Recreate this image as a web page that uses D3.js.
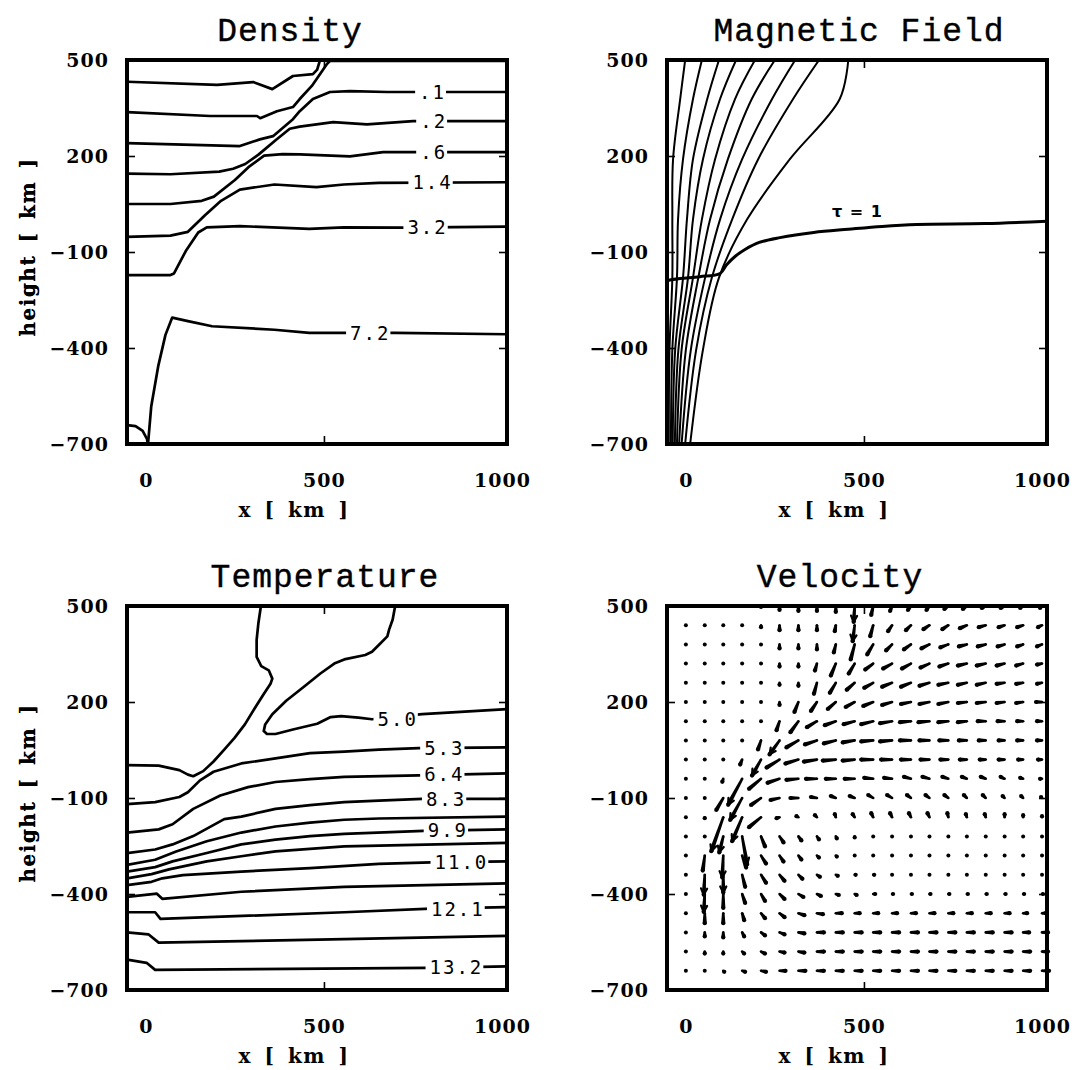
<!DOCTYPE html>
<html>
<head>
<meta charset="utf-8">
<script src="https://cdn.jsdelivr.net/npm/d3@7"></script>
<style>
  body { margin: 0; background: #fff; }
  .title { font-family: "Liberation Mono", monospace; font-size: 33px; letter-spacing: 1px; stroke: #000; stroke-width: 0.4px; }
  .tick text { font-family: "DejaVu Serif", serif; font-weight: bold; font-size: 19px; letter-spacing: 1px; fill: #000; }
  .axis-title { font-family: "DejaVu Serif", serif; font-weight: bold; font-size: 20px; letter-spacing: 1.5px; word-spacing: 4px; }
  .clabel { font-family: "DejaVu Sans Mono", monospace; font-size: 19px; letter-spacing: 2px; }
  .tau { font-family: "DejaVu Sans", sans-serif; font-weight: bold; font-size: 16px; word-spacing: 2px; }
</style>
</head>
<body>
<svg id="chart" width="1074" height="1070"></svg>
<script>
// axes shared by all four panels (km)
const xDomain = [-53, 1014];
const yDomain = [-700, 500];
const xTickLabels = [0, 500, 1000];
const yTickLabels = [500, 200, -100, -400, -700];
const xInnerTicks = [500];
const yInnerTicks = [200, -100, -400];

// Density contours, points are [x km, height km]
const densityContours = [
  [[-53,432],[200,422],[301,431],[355,409],[413,450],[469,456],[481,470],[489,500]],
  [[-53,337],[180,325],[312,325],[321,318],[368,340],[413,353],[432,378],[466,419],[508,487],[517,497],[1014,497]],
  [[-53,240],[264,231],[320,252],[357,262],[413,315],[432,340],[469,378],[517,400],[573,403],[677,400],[1014,400]],
  [[-53,145],[69,143],[206,151],[245,160],[279,175],[317,205],[365,250],[404,285],[432,292],[526,306],[621,299],[750,309],[1014,309]],
  [[-53,50],[69,50],[157,60],[191,73],[250,125],[288,165],[332,201],[384,206],[432,205],[573,199],[666,212],[750,212],[1014,212]],
  [[-53,-53],[69,-49],[118,-37],[166,15],[211,60],[264,95],[361,111],[479,103],[556,111],[654,116],[1014,118]],
  [[-53,-172],[69,-172],[79,-167],[112,-97],[147,-39],[171,-23],[264,-19],[459,-28],[556,-23],[723,-24],[1014,-21]],
  [[6,-700],[15,-583],[35,-455],[55,-359],[74,-305],[118,-316],[186,-332],[361,-343],[459,-353],[566,-353],[702,-353],[1014,-357]],
  [[-53,-641],[-29,-644],[-9,-659],[3,-684],[6,-700]]
];
const densityLabels = [".1", ".2", ".6", "1.4", "3.2", "7.2"];
const densityLabelX = [805, 808, 808, 805, 791, 630];
const densityLabelY = [401, 309, 212, 117, -22, -354];

// Magnetic field lines: x position (km) of each line at the given heights
const fieldLevels = [500, 378, 190, 2, -180, -405, -700];
const fieldLines = [
  [-2, -16, -36, -38, -38, -46, -48],
  [45, 20, -8, -22, -25, -38, -42],
  [93, 60, 20, 3, -8, -30, -37],
  [141, 96, 48, 20, 6, -21, -31],
  [194, 138, 82, 45, 20, -12, -25],
  [250, 185, 118, 68, 35, 0, -19],
  [307, 242, 158, 96, 54, 14, -12],
  [374, 301, 203, 130, 73, 29, -2],
  [456, 432, 292, 172, 93, 48, 12]
];
const tauLine = [[1014,-4],[840,-11],[649,-14],[551,-20],[456,-29],[359,-39],[264,-55],[206,-70],[166,-92],[138,-114],[115,-139],[96,-167],[39,-177],[-16,-183],[-53,-189]];
const tauLabel = {text: "\u03c4 = 1", x: 480, y: 27};

// Temperature contours
const tempContours = [
  [[700,500],[693,458],[683,426],[678,405],[654,378],[635,357],[616,347],[557,333],[529,320],[490,289],[442,246],[394,204],[355,162],[335,130],[331,109],[340,100],[364,100],[413,114],[481,132],[519,153],[548,156],[597,151],[635,146],[776,162],[848,167],[1014,178]],
  [[-53,3],[36,1],[94,-13],[118,-27],[133,-32],[161,-16],[190,14],[220,51],[249,88],[278,130],[307,183],[331,225],[350,257],[355,273],[345,299],[324,312],[311,341],[311,394],[316,447],[323,500]],
  [[-53,-119],[26,-113],[94,-97],[118,-82],[152,-45],[190,-18],[268,8],[364,24],[461,40],[557,45],[654,51],[766,56],[1014,58]],
  [[-53,-208],[36,-198],[75,-182],[133,-134],[209,-92],[287,-66],[364,-50],[461,-41],[557,-34],[766,-29],[1014,-23]],
  [[-53,-272],[26,-261],[75,-245],[133,-219],[220,-166],[268,-158],[364,-134],[461,-122],[557,-113],[654,-108],[776,-103],[1014,-103]],
  [[-53,-309],[26,-293],[85,-267],[171,-235],[268,-208],[364,-189],[461,-177],[557,-168],[654,-164],[1014,-158]],
  [[-53,-330],[26,-316],[75,-298],[171,-272],[268,-245],[364,-230],[461,-219],[557,-212],[780,-203],[1014,-198]],
  [[-53,-351],[16,-338],[65,-323],[171,-298],[268,-282],[364,-267],[557,-251],[1014,-240]],
  [[-53,-372],[16,-362],[46,-351],[104,-341],[268,-330],[461,-319],[654,-306],[800,-301],[1014,-298]],
  [[-53,-409],[31,-399],[46,-415],[268,-393],[557,-378],[1014,-367]],
  [[-53,-457],[26,-457],[41,-478],[557,-457],[800,-446],[1014,-441]],
  [[-53,-520],[7,-526],[36,-552],[557,-541],[1014,-531]],
  [[-53,-605],[2,-615],[26,-637],[790,-631],[1014,-626]]
];
const tempLabels = ["5.0", "5.3", "6.4", "8.3", "9.9", "11.0", "12.1", "13.2"];
const tempLabelX = [707, 838, 838, 843, 848, 886, 876, 872];
const tempLabelY = [145, 56, -27, -104, -201, -300, -448, -630];

// Velocity field on a 20 x 20 grid (arbitrary units, w positive upward)
const gridX = [0, 53, 105, 158, 211, 263, 316, 368, 421, 474, 526, 579, 632, 684, 737, 789, 842, 895, 947, 1000];
const gridY = [500, 440, 380, 320, 260, 200, 140, 80, 20, -40, -100, -160, -220, -280, -340, -400, -460, -520, -580, -640];
const velU = [
  [0,0,0,0,0,0,0,0,0,-1,-2,-2,-3,-3,-4,-4,-4,-4,-3,-2],
  [0,0,0,0,0,0,0,0,-1,-2,-3,-4,-5,-6,-6,-7,-7,-6,-6,-4],
  [0,0,0,0,0,0,0,0,-2,-4,-6,-6,-7,-8,-8,-8,-8,-7,-6,-5],
  [0,0,0,0,0,0,0,-2,-5,-6,-8,-9,-9,-9,-9,-9,-9,-8,-7,-5],
  [0,0,0,0,0,0,0,-3,-6,-8,-9,-10,-10,-10,-10,-9,-9,-8,-7,-5],
  [0,0,0,0,0,0,-4,-6,-8,-9,-10,-10,-10,-10,-10,-9,-9,-8,-7,-6],
  [0,0,0,0,0,-3,-8,-10,-11,-11,-12,-12,-11,-11,-10,-9,-8,-7,-6,-5],
  [0,0,0,0,-3,-10,-12,-12,-12,-12,-12,-12,-11,-10,-9,-8,-7,-6,-6,-5],
  [0,0,0,-2,-9,-13,-13,-13,-13,-12,-12,-11,-10,-9,-8,-7,-6,-6,-5,-4],
  [0,0,-1,-14,-12,-12,-12,-11,-10,-10,-9,-8,-7,-7,-6,-5,-5,-4,-3,-2],
  [0,0,-7,-12,-10,-9,-8,-6,-5,-5,-5,-5,-4,-4,-4,-3,-3,-2,-2,-1],
  [0,0,-12,-10,-12,-3,-2,-2,-1,-2,-2,-2,-2,-2,-1,-1,-1,0,0,0],
  [0,0,-4,5,4,4,3,2,1,0,0,0,0,0,0,0,0,0,0,0],
  [0,-2,-1,4,5,4,3,2,1,0,0,0,0,0,0,0,0,0,0,0],
  [0,-1,0,3,5,5,4,3,2,1,1,0,0,0,0,0,0,0,0,0],
  [0,-1,0,3,4,5,5,4,3,2,2,1,1,1,1,1,1,1,1,1],
  [0,0,0,2,4,5,6,6,6,5,5,5,5,5,5,5,5,5,4,4],
  [0,0,0,2,4,5,6,7,7,7,7,7,7,7,7,7,7,7,6,6],
  [0,0,0,2,4,5,6,7,7,7,7,7,7,7,7,7,7,7,7,6],
  [0,0,1,3,5,6,7,7,7,7,7,7,7,7,7,7,7,7,7,7]
];
const velW = [
  [0,0,0,0,-1,-4,-5,-5,-6,-16,-9,-5,-4,-4,-3,-3,-2,-2,-2,-2],
  [0,0,0,0,-2,-5,-5,-5,-6,-16,-11,-6,-5,-4,-4,-3,-2,-2,-2,-2],
  [0,0,0,0,0,-4,-4,-5,-8,-15,-10,-6,-5,-4,-3,-2,-2,-2,-2,-2],
  [0,0,0,0,0,-3,-3,-7,-12,-10,-6,-5,-5,-4,-3,-2,-2,-2,-2,-1],
  [0,0,0,0,0,-2,-3,-11,-10,-7,-5,-4,-4,-3,-2,-2,-2,-1,-1,-1],
  [0,0,0,0,0,-3,-10,-9,-7,-5,-4,-3,-2,-2,-2,-1,-1,-1,-1,0],
  [0,0,0,0,0,-9,-11,-6,-4,-3,-3,-2,-1,-1,-1,-1,0,0,0,0],
  [0,0,0,0,-9,-14,-7,-4,-3,-2,-1,-1,0,0,0,0,0,0,0,0],
  [0,0,0,-5,-16,-8,-4,-2,-1,-1,0,0,0,0,0,0,0,0,0,0],
  [0,0,-3,-26,-10,-4,-1,0,0,0,1,1,2,2,2,2,2,2,1,0],
  [0,0,-12,-22,-7,-2,0,1,2,2,3,3,3,3,3,3,3,2,2,1],
  [0,-1,-34,-24,-10,-1,1,2,3,3,4,4,4,4,4,3,3,3,2,1],
  [0,0,-16,-28,-10,-6,-4,-3,-2,-1,0,0,0,0,0,0,0,0,0,0],
  [0,-15,-22,-12,-8,-6,-4,-2,-1,0,0,0,0,0,0,0,0,0,0,0],
  [0,-20,-18,-12,-8,-6,-4,-2,-1,0,0,0,0,0,0,0,0,0,0,0],
  [0,-18,-14,-9,-7,-5,-3,-2,-1,-1,0,0,0,0,0,0,0,0,0,0],
  [0,-10,-10,-7,-5,-4,-2,-1,0,0,0,0,0,0,0,0,0,0,0,0],
  [0,-4,-5,-4,-3,-2,-1,0,0,0,0,0,0,0,0,0,0,0,0,0],
  [0,-2,-2,-2,-2,-1,-1,0,0,0,0,0,0,0,0,0,0,0,0,0],
  [0,0,-1,-1,-1,0,0,0,0,0,0,0,0,0,0,0,0,0,0,0]
];

// ---------------------------------------------------------------
const svg = d3.select("#chart");
const panelW = 380, panelH = 384;
const layout = [
  {key: "density", left: 127, top: 60, title: "Density", titleX: 290},
  {key: "field", left: 667, top: 60, title: "Magnetic Field", titleX: 859},
  {key: "temp", left: 127, top: 606, title: "Temperature", titleX: 325},
  {key: "vel", left: 667, top: 606, title: "Velocity", titleX: 840}
];
const fmt = d3.format("d");

function makePanel(p) {
  const x = d3.scaleLinear().domain(xDomain).range([p.left, p.left + panelW]);
  const y = d3.scaleLinear().domain(yDomain).range([p.top + panelH, p.top]);
  const g = svg.append("g").attr("class", "panel-" + p.key);

  svg.append("clipPath").attr("id", "clip-" + p.key)
    .append("rect").attr("x", p.left).attr("y", p.top).attr("width", panelW).attr("height", panelH);

  g.append("text").attr("class", "title")
    .attr("x", p.titleX).attr("y", p.top - 19)
    .attr("text-anchor", "middle").text(p.title);

  // tick labels
  const yl = g.append("g").attr("transform", "translate(" + p.left + ",0)")
    .call(d3.axisLeft(y).tickValues(yTickLabels).tickFormat(fmt).tickSize(0).tickPadding(18));
  yl.select(".domain").remove();
  yl.selectAll("text").attr("dy", "0.36em");
  const xl = g.append("g").attr("transform", "translate(0," + (p.top + panelH) + ")")
    .call(d3.axisBottom(x).tickValues(xTickLabels).tickFormat(fmt).tickSize(0).tickPadding(30));
  xl.select(".domain").remove();

  // inside ticks on all four sides
  const tl = g.append("g").attr("transform", "translate(" + p.left + ",0)")
    .call(d3.axisRight(y).tickValues(yInnerTicks).tickSize(8).tickFormat(""));
  const tr = g.append("g").attr("transform", "translate(" + (p.left + panelW) + ",0)")
    .call(d3.axisLeft(y).tickValues(yInnerTicks).tickSize(8).tickFormat(""));
  const tt = g.append("g").attr("transform", "translate(0," + p.top + ")")
    .call(d3.axisBottom(x).tickValues(xInnerTicks).tickSize(8).tickFormat(""));
  const tb = g.append("g").attr("transform", "translate(0," + (p.top + panelH) + ")")
    .call(d3.axisTop(x).tickValues(xInnerTicks).tickSize(8).tickFormat(""));
  [tl, tr, tt, tb].forEach(function (a) {
    a.select(".domain").remove();
    a.selectAll("line").attr("stroke", "#000").attr("stroke-width", 1.6);
  });

  g.append("text").attr("class", "axis-title")
    .attr("x", p.left + panelW / 2 - 23).attr("y", p.top + panelH + 73)
    .attr("text-anchor", "middle").text("x [ km ]");
  g.append("text").attr("class", "axis-title")
    .attr("transform", "translate(35," + (p.top + panelH / 2 - 5) + ") rotate(-90)")
    .attr("text-anchor", "middle").text("height [ km ]");

  const plot = g.append("g").attr("clip-path", "url(#clip-" + p.key + ")");
  return {g: g, plot: plot, x: x, y: y, p: p};
}

function frame(P) {
  P.g.append("rect").attr("x", P.p.left).attr("y", P.p.top)
    .attr("width", panelW).attr("height", panelH)
    .attr("fill", "none").attr("stroke", "#000").attr("stroke-width", 4);
}

function addLabel(P, txt, lx, ly) {
  const t = P.plot.append("text").attr("class", "clabel")
    .attr("x", P.x(lx)).attr("y", P.y(ly)).attr("dy", "0.36em")
    .attr("text-anchor", "middle").text(txt);
  const b = t.node().getBBox();
  P.plot.insert("rect", function () { return t.node(); })
    .attr("x", b.x - 4).attr("y", b.y + 2).attr("width", b.width + 4).attr("height", b.height - 4)
    .attr("fill", "#fff");
}

const panels = layout.map(makePanel);

// Density
(function () {
  const P = panels[0];
  const line = d3.line().x(d => P.x(d[0])).y(d => P.y(d[1]));
  P.plot.selectAll("path.c").data(densityContours).enter().append("path")
    .attr("class", "c").attr("d", line)
    .attr("fill", "none").attr("stroke", "#000").attr("stroke-width", 2.7)
    .attr("stroke-linejoin", "round");
  densityLabels.forEach((t, i) => addLabel(P, t, densityLabelX[i], densityLabelY[i]));
  frame(P);
})();

// Magnetic field
(function () {
  const P = panels[1];
  const line = d3.line().x(d => P.x(d[0])).y(d => P.y(d[1])).curve(d3.curveCatmullRom);
  P.plot.selectAll("path.f").data(fieldLines).enter().append("path")
    .attr("class", "f")
    .attr("d", xs => line(xs.map((v, i) => [v, fieldLevels[i]])))
    .attr("fill", "none").attr("stroke", "#000").attr("stroke-width", 2);
  P.plot.append("path")
    .attr("d", line(tauLine))
    .attr("fill", "none").attr("stroke", "#000").attr("stroke-width", 3);
  P.plot.append("text").attr("class", "tau")
    .attr("x", P.x(tauLabel.x)).attr("y", P.y(tauLabel.y)).attr("dy", "0.36em")
    .attr("text-anchor", "middle").text(tauLabel.text);
  frame(P);
})();

// Temperature
(function () {
  const P = panels[2];
  const line = d3.line().x(d => P.x(d[0])).y(d => P.y(d[1]));
  P.plot.selectAll("path.c").data(tempContours).enter().append("path")
    .attr("class", "c").attr("d", line)
    .attr("fill", "none").attr("stroke", "#000").attr("stroke-width", 2.7)
    .attr("stroke-linejoin", "round");
  tempLabels.forEach((t, i) => addLabel(P, t, tempLabelX[i], tempLabelY[i]));
  frame(P);
})();

// Velocity
(function () {
  const P = panels[3];
  const arrows = [];
  gridY.forEach((gy, r) => gridX.forEach((gx, c) => {
    arrows.push({x: gx, y: gy, u: velU[r][c], w: velW[r][c]});
  }));
  const ag = P.g.append("g");
  arrows.forEach(function (a) {
    const x0 = P.x(a.x), y0 = P.y(a.y);
    const x1 = x0 + a.u, y1 = y0 - a.w;
    const len = Math.hypot(a.u, a.w);
    if (len < 0.5) {
      ag.append("circle").attr("cx", x0).attr("cy", y0).attr("r", 2).attr("fill", "#000");
      return;
    }
    // tapered dash: thinner tail, heavy head
    const ux = (x1 - x0) / len, uy = (y1 - y0) / len;
    const nx = -uy, ny = ux;
    const tw = 1.3, hw = 2.1;
    ag.append("path")
      .attr("d", "M" + (x0 + nx * tw) + "," + (y0 + ny * tw) +
                 "L" + (x1 + nx * hw) + "," + (y1 + ny * hw) +
                 "L" + (x1 - nx * hw) + "," + (y1 - ny * hw) +
                 "L" + (x0 - nx * tw) + "," + (y0 - ny * tw) + "Z")
      .attr("fill", "#000");
    ag.append("circle").attr("cx", x1).attr("cy", y1).attr("r", hw).attr("fill", "#000");
    ag.append("circle").attr("cx", x0).attr("cy", y0).attr("r", tw).attr("fill", "#000");
    if (len >= 16) {
      const ang = Math.atan2(y1 - y0, x1 - x0);
      [0.45, -0.45].forEach(function (da) {
        ag.append("line").attr("x1", x1).attr("y1", y1)
          .attr("x2", x1 - 7 * Math.cos(ang + da)).attr("y2", y1 - 7 * Math.sin(ang + da))
          .attr("stroke", "#000").attr("stroke-width", 2.2).attr("stroke-linecap", "round");
      });
    }
  });
  frame(P);
})();
</script>
</body>
</html>
